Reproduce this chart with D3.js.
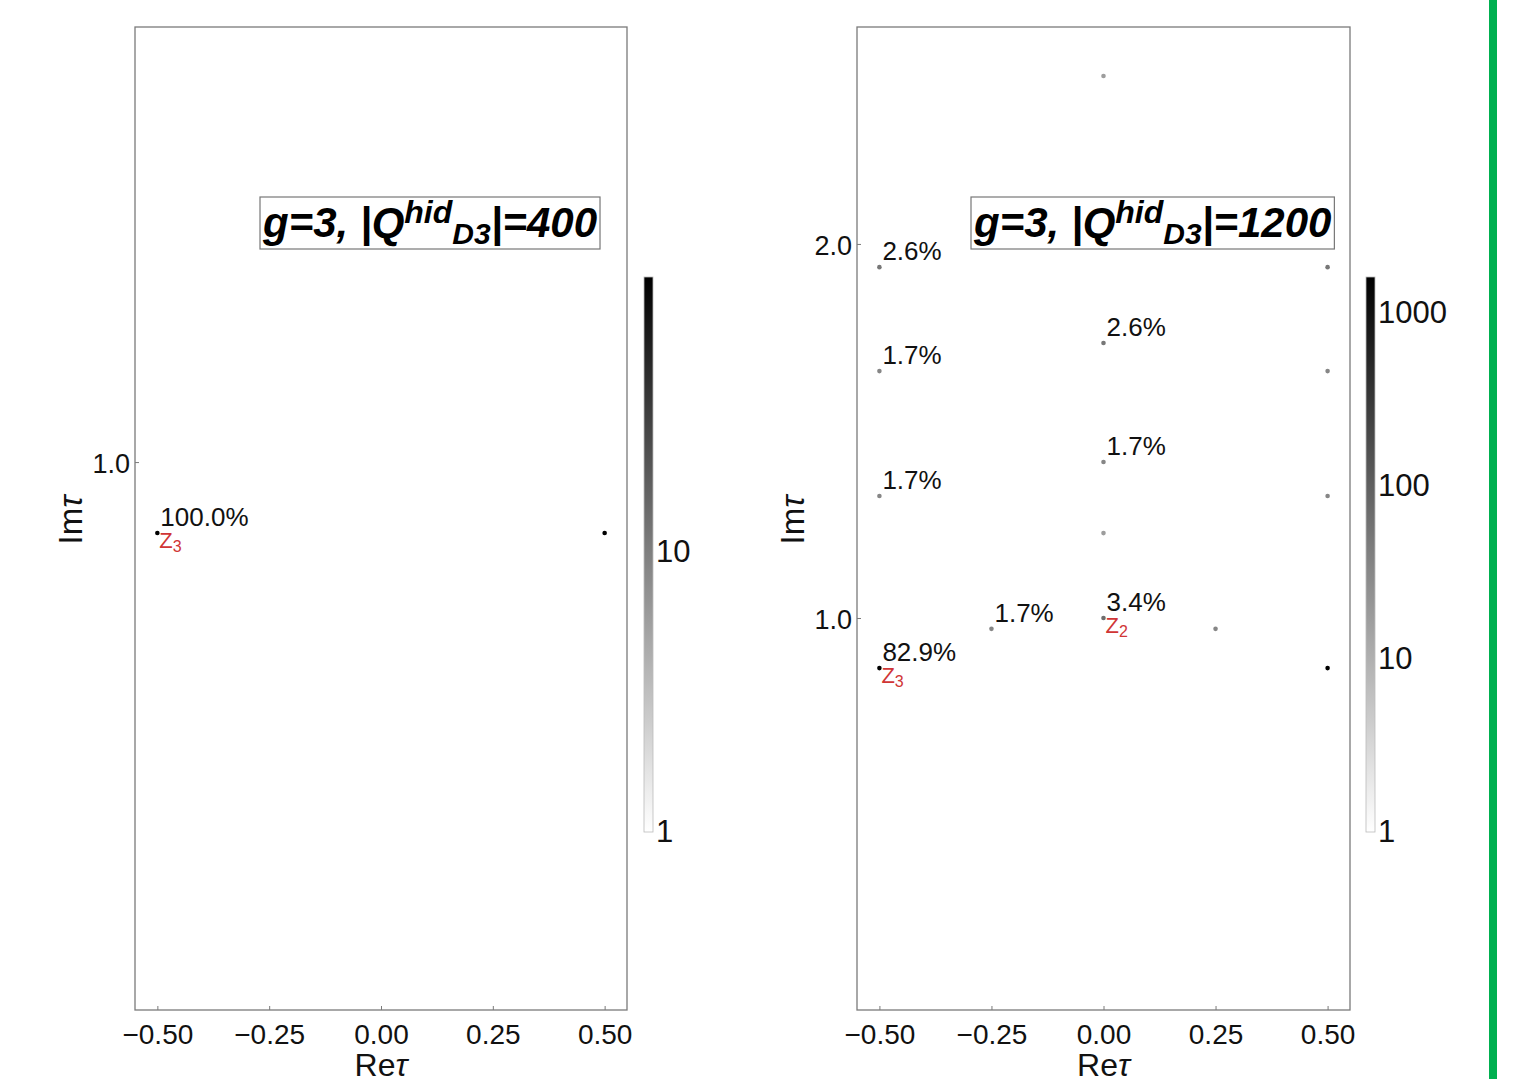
<!DOCTYPE html>
<html><head><meta charset="utf-8">
<script src="https://cdn.jsdelivr.net/npm/d3@7"></script>
<style>
html,body{margin:0;padding:0;background:#fff;}
text{font-family:"Liberation Sans",Arial,sans-serif;}
</style></head>
<body><svg id="c" width="1527" height="1079"></svg>
<script>
// ---- data ----
const xTickValues = [-0.5, -0.25, 0, 0.25, 0.5];
const xTickLabels = ["\u22120.50", "\u22120.25", "0.00", "0.25", "0.50"];

const leftYTicks = [1.0];
const leftYTickLabels = ["1.0"];
const leftRe = [-0.5, 0.5];
const leftIm = [0.866, 0.866];
const leftCount = [96, 96];
const leftPct = ["100.0%", ""];
const leftName = ["Z", ""];
const leftSub = ["3", ""];
const leftCbarTicks = [1, 10];
const leftTitleNum = "400";

const rightYTicks = [1.0, 2.0];
const rightYTickLabels = ["1.0", "2.0"];
const rightRe = [0, -0.5, 0.5, 0, -0.5, 0.5, 0, -0.5, 0.5, 0, -0.25, 0.25, 0, -0.5, 0.5];
const rightIm = [2.449, 1.938, 1.938, 1.735, 1.660, 1.660, 1.417, 1.326, 1.326, 1.227, 0.971, 0.971, 1.0, 0.866, 0.866];
const rightCount = [17, 51, 51, 51, 33, 33, 33, 33, 33, 17, 33, 33, 66, 1615, 1615];
const rightPct = ["", "2.6%", "", "2.6%", "1.7%", "", "1.7%", "1.7%", "", "", "1.7%", "", "3.4%", "82.9%", ""];
const rightName = ["", "", "", "", "", "", "", "", "", "", "", "", "Z", "Z", ""];
const rightSub = ["", "", "", "", "", "", "", "", "", "", "", "", "2", "3", ""];
const rightCbarTicks = [1, 10, 100, 1000];
const rightTitleNum = "1200";

// ---- layout ----
const svg = d3.select("#c");
const frameTop = 27, frameBottom = 1010;
const cbarTop = 277, cbarBottom = 832;

const panels = [
  {x0: 135, x1: 627, yDom: [-0.034, 1.821], yTicks: leftYTicks, yLabels: leftYTickLabels,
   re: leftRe, im: leftIm, count: leftCount, pct: leftPct, name: leftName, sub: leftSub,
   cbx: 644, cbTicks: leftCbarTicks, titleX: 260, titleNum: leftTitleNum, ylabX: 82, id: "L"},
  {x0: 857, x1: 1350, yDom: [-0.048, 2.580], yTicks: rightYTicks, yLabels: rightYTickLabels,
   re: rightRe, im: rightIm, count: rightCount, pct: rightPct, name: rightName, sub: rightSub,
   cbx: 1366, cbTicks: rightCbarTicks, titleX: 971, titleNum: rightTitleNum, ylabX: 804, id: "R"}
];

const defs = svg.append("defs");

panels.forEach(p => {
  const x = d3.scaleLinear().domain([-0.55, 0.55]).range([p.x0, p.x1]);
  const y = d3.scaleLinear().domain(p.yDom).range([frameBottom, frameTop]);
  const cmax = d3.max(p.count);
  const cscale = d3.scaleLog().domain([1, cmax]).range([0, 1]);
  const col = v => d3.interpolateRgb("#ffffff", "#000000")(cscale(v));
  const g = svg.append("g");

  // frame
  g.append("rect").attr("x", p.x0).attr("y", frameTop)
    .attr("width", p.x1 - p.x0).attr("height", frameBottom - frameTop)
    .attr("fill", "none").attr("stroke", "#7a7a7a").attr("stroke-width", 1.3);

  // x axis
  const xa = g.append("g").attr("transform", `translate(0,${frameBottom})`)
    .call(d3.axisBottom(x).tickValues(xTickValues).tickSizeInner(-4).tickSizeOuter(0)
      .tickPadding(14).tickFormat((d, i) => xTickLabels[i]));
  xa.select(".domain").remove();
  xa.selectAll("line").attr("stroke", "#7a7a7a");
  xa.selectAll("text").attr("font-size", 28).attr("fill", "#111")
    .attr("font-family", "'Liberation Sans',Arial,sans-serif");

  // y axis
  const ya = g.append("g").attr("transform", `translate(${p.x0},0)`)
    .call(d3.axisLeft(y).tickValues(p.yTicks).tickSizeInner(-4).tickSizeOuter(0)
      .tickPadding(5).tickFormat((d, i) => p.yLabels[i]));
  ya.select(".domain").remove();
  ya.selectAll("line").attr("stroke", "#7a7a7a");
  ya.selectAll("text").attr("font-size", 27).attr("fill", "#111").attr("dy", "0.38em")
    .attr("font-family", "'Liberation Sans',Arial,sans-serif");

  // axis labels
  const xl = g.append("text").attr("x", (p.x0 + p.x1) / 2).attr("y", 1076)
    .attr("text-anchor", "middle").attr("font-size", 32).attr("fill", "#111");
  xl.append("tspan").text("Re");
  xl.append("tspan").attr("font-style", "italic").text("\u03c4");
  const yl = g.append("text").attr("transform", `translate(${p.ylabX},520) rotate(-90)`)
    .attr("text-anchor", "middle").attr("font-size", 33).attr("fill", "#111");
  yl.append("tspan").text("Im");
  yl.append("tspan").attr("font-style", "italic").text("\u03c4");

  // points
  const idx = d3.range(p.re.length);
  g.selectAll("circle.pt").data(idx).join("circle")
    .attr("cx", i => x(p.re[i])).attr("cy", i => y(p.im[i]))
    .attr("r", 2.3).attr("fill", i => col(p.count[i]));

  // percent labels
  g.selectAll("text.pct").data(idx.filter(i => p.pct[i])).join("text")
    .attr("x", i => x(p.re[i]) + 3).attr("y", i => y(p.im[i]) - 7)
    .attr("font-size", 26).attr("fill", "#111").text(i => p.pct[i]);

  // point names
  idx.filter(i => p.name[i]).forEach(i => {
    const t = g.append("text").attr("x", x(p.re[i]) + 2).attr("y", y(p.im[i]) + 15)
      .attr("font-size", 22).attr("fill", "#d03535");
    t.append("tspan").text(p.name[i]);
    t.append("tspan").attr("font-size", 16).attr("dy", 4).text(p.sub[i]);
  });

  // title box
  const tg = g.append("g");
  const tt = tg.append("text").attr("x", p.titleX + 3).attr("y", 237)
    .attr("font-weight", "bold").attr("font-style", "italic").attr("font-size", 42).attr("fill", "#000");
  tt.append("tspan").text("g=3, |Q");
  tt.append("tspan").attr("font-size", 32).attr("dy", -14).text("hid");
  tt.append("tspan").attr("font-size", 30).attr("dy", 21).text("D3");
  tt.append("tspan").attr("dy", -7).text("|=" + p.titleNum);
  const bb = tt.node().getBBox();
  tg.insert("rect", "text").attr("x", p.titleX).attr("y", 197)
    .attr("width", bb.x + bb.width + 3 - p.titleX).attr("height", 52)
    .attr("fill", "#fff").attr("stroke", "#777").attr("stroke-width", 1.2);

  // colorbar
  const gid = "grad" + p.id;
  const grad = defs.append("linearGradient").attr("id", gid)
    .attr("x1", 0).attr("y1", 1).attr("x2", 0).attr("y2", 0);
  d3.range(0, 1.0001, 0.1).forEach(t => {
    grad.append("stop").attr("offset", t).attr("stop-color", d3.interpolateRgb("#ffffff", "#000000")(t));
  });
  const cy = d3.scaleLog().domain([1, cmax]).range([cbarBottom, cbarTop]);
  g.append("rect").attr("x", p.cbx).attr("y", cbarTop).attr("width", 9)
    .attr("height", cbarBottom - cbarTop).attr("fill", `url(#${gid})`)
    .attr("stroke", "#bbb").attr("stroke-width", 0.8);
  const ca = g.append("g").attr("transform", `translate(${p.cbx + 9},0)`)
    .call(d3.axisRight(cy).tickValues(p.cbTicks).tickSize(0).tickPadding(3)
      .tickFormat(d3.format("d")));
  ca.select(".domain").remove();
  ca.selectAll("text").attr("font-size", 31).attr("fill", "#111")
    .attr("font-family", "'Liberation Sans',Arial,sans-serif");
});

// green separator line at right edge
svg.append("rect").attr("x", 1489).attr("y", 0).attr("width", 8).attr("height", 1079).attr("fill", "#00b050");
</script></body></html>
